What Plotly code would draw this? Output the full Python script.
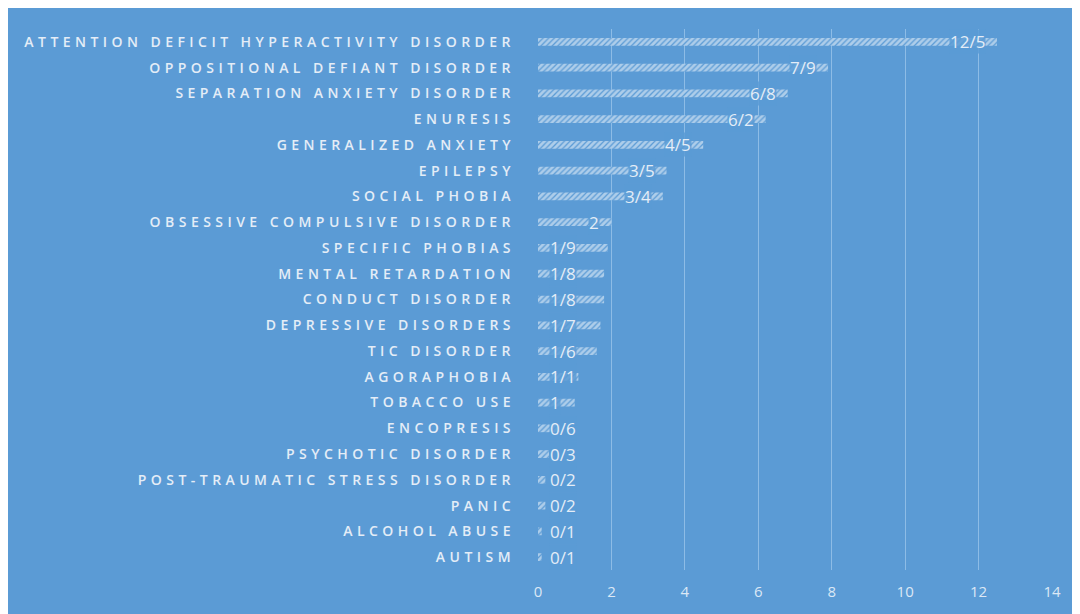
import plotly.graph_objects as go

categories = [
    "ATTENTION DEFICIT HYPERACTIVITY DISORDER",
    "OPPOSITIONAL DEFIANT DISORDER",
    "SEPARATION ANXIETY DISORDER",
    "ENURESIS",
    "GENERALIZED ANXIETY",
    "EPILEPSY",
    "SOCIAL PHOBIA",
    "OBSESSIVE COMPULSIVE DISORDER",
    "SPECIFIC PHOBIAS",
    "MENTAL RETARDATION",
    "CONDUCT DISORDER",
    "DEPRESSIVE DISORDERS",
    "TIC DISORDER",
    "AGORAPHOBIA",
    "TOBACCO USE",
    "ENCOPRESIS",
    "PSYCHOTIC DISORDER",
    "POST-TRAUMATIC STRESS DISORDER",
    "PANIC",
    "ALCOHOL ABUSE",
    "AUTISM",
]
values = [12.5, 7.9, 6.8, 6.2, 4.5, 3.5, 3.4, 2, 1.9, 1.8, 1.8, 1.7, 1.6,
          1.1, 1, 0.6, 0.3, 0.2, 0.2, 0.1, 0.1]
value_labels = ["12/5", "7/9", "6/8", "6/2", "4/5", "3/5", "3/4", "2", "1/9",
                "1/8", "1/8", "1/7", "1/6", "1/1", "1", "0/6", "0/3", "0/2",
                "0/2", "0/1", "0/1"]
x_ticks = [0, 2, 4, 6, 8, 10, 12, 14]

BLUE = "#5B9BD5"
LIGHT = "#E4EDF7"

fig = go.Figure()
fig.add_trace(go.Bar(
    y=categories,
    x=values,
    orientation="h",
    width=0.3,
    marker=dict(
        color=BLUE,
        line=dict(width=0),
        pattern=dict(shape="/", fgcolor="white", bgcolor=BLUE, size=4, solidity=0.7),
    ),
    hoverinfo="skip",
))

annotations = []
for cat, v, lab in zip(categories, values, value_labels):
    common = dict(y=cat, xref="x", yref="y", text=lab, showarrow=False,
                  font=dict(family="Open Sans", size=17, color=LIGHT),
                  bgcolor="rgba(91,155,213,0.85)", borderpad=0)
    if v >= 2:
        annotations.append(dict(x=v, xanchor="right", xshift=-11, **common))
    else:
        annotations.append(dict(x=0, xanchor="left", xshift=11, **common))

fig.update_layout(
    width=1080,
    height=614,
    margin=dict(l=530, r=36, t=21, b=52, autoexpand=False),
    paper_bgcolor=BLUE,
    plot_bgcolor=BLUE,
    showlegend=False,
    annotations=annotations,
    xaxis=dict(
        range=[0, 14],
        tickvals=x_ticks,
        showgrid=True,
        gridcolor="#8DBCE6",
        gridwidth=1,
        zeroline=False,
        showline=False,
        ticks="",
        ticklabelstandoff=11,
        tickfont=dict(family="Open Sans", size=15, color="#DCE8F5"),
        fixedrange=True,
    ),
    yaxis=dict(
        autorange="reversed",
        showgrid=False,
        zeroline=False,
        showline=False,
        ticks="",
        ticklabelstandoff=22,
        tickfont=dict(family="Open Sans", size=14, color=LIGHT, weight=600),
        fixedrange=True,
    ),
)

post = """
var gd = document.getElementById('{plot_id}');
function sp(){
  document.querySelectorAll('.ytick text').forEach(function(t){ t.style.letterSpacing = '4.45px'; });
}
sp();
gd.on('plotly_afterplot', sp);
"""

fig.write_html("out.html", post_script=post, config=dict(displayModeBar=False))
